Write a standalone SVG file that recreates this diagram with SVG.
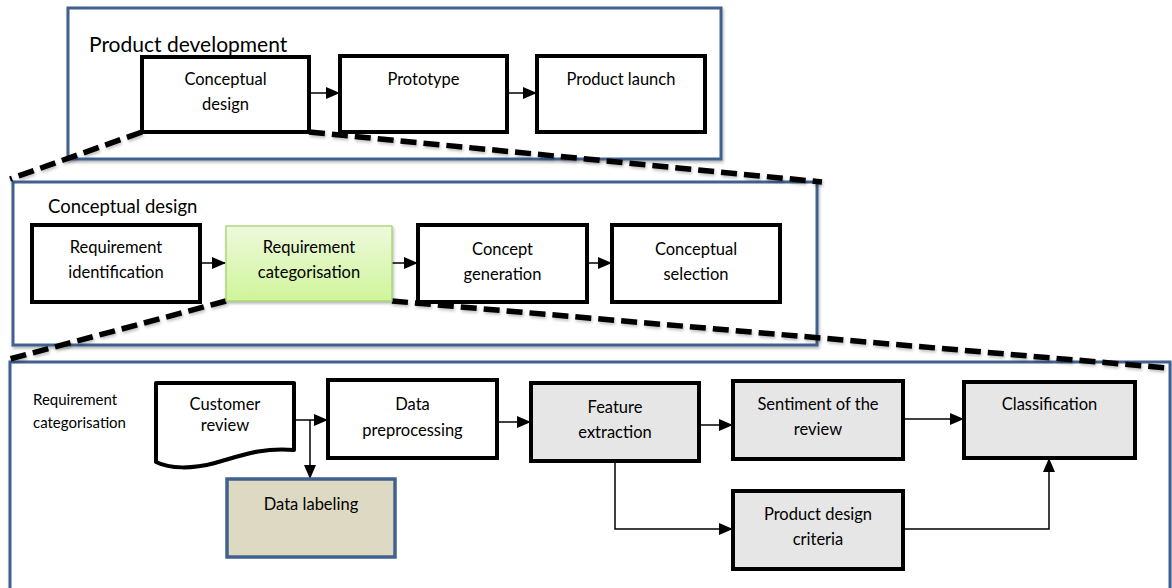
<svg xmlns="http://www.w3.org/2000/svg" width="1172" height="588" viewBox="0 0 1172 588">
<defs>
<marker id="ah2" markerWidth="14" markerHeight="12" refX="13" refY="6" orient="auto" markerUnits="userSpaceOnUse"><path d="M0,0 L14,6 L0,12 Z" fill="#000"/></marker>
<linearGradient id="green" x1="0" y1="0" x2="0" y2="1"><stop offset="0" stop-color="#eef9dc"/><stop offset="1" stop-color="#cff59a"/></linearGradient>
<filter id="sh" x="-5%" y="-5%" width="110%" height="115%"><feDropShadow dx="1" dy="2" stdDeviation="1.5" flood-color="#000" flood-opacity="0.3"/></filter>
<filter id="sh2" x="-5%" y="-20%" width="110%" height="140%"><feDropShadow dx="1" dy="2" stdDeviation="1.5" flood-color="#000" flood-opacity="0.25"/></filter>
</defs>
<style>
.frame{fill:#fff;stroke:#41618f;stroke-width:3}
.box{fill:#fff;stroke:#000;stroke-width:4}
.gbox{fill:#e6e6e6;stroke:#000;stroke-width:4}
.t{font-family:Lato,"Open Sans",sans-serif;fill:#000;text-anchor:middle;font-size:16.5px}
.ttl{font-family:Lato,"Open Sans",sans-serif;fill:#000}
.dash{fill:none;stroke:#000;stroke-width:5.5;stroke-dasharray:16,7}
.c{fill:none;stroke:#000;stroke-width:1.5}
</style>
<rect width="1172" height="588" fill="#fff"/>
<g id="frame1">
<rect class="frame" x="68" y="8" width="653" height="151" filter="url(#sh)"/>
<text class="ttl" x="89" y="52" font-size="21">Product development</text>
</g>
<g id="frame2">
<rect class="frame" x="13" y="182" width="804" height="163" filter="url(#sh)"/>
<text class="ttl" x="48" y="213" font-size="18.5">Conceptual design</text>
</g>
<g id="frame3">
<rect class="frame" x="10" y="362" width="1160" height="232" filter="url(#sh)"/>
<text class="ttl" x="33" y="405" font-size="15">Requirement</text>
<text class="ttl" x="33" y="428" font-size="15">categorisation</text>
</g>
<g id="connectors">
<g filter="url(#sh2)">
<path class="dash" d="M142,132 L10,179"/>
<path class="dash" d="M309,132 L822,182"/>
<path class="dash" d="M226,301 L6,360"/>
<path class="dash" d="M392,301 L1168,368"/>
</g>
<path class="c" d="M309,93 H339" marker-end="url(#ah2)"/>
<path class="c" d="M507,93 H536" marker-end="url(#ah2)"/>
<path class="c" d="M200,263 H225" marker-end="url(#ah2)"/>
<path class="c" d="M392,263 H417" marker-end="url(#ah2)"/>
<path class="c" d="M587,263 H611" marker-end="url(#ah2)"/>
<path class="c" d="M294,420 H327" marker-end="url(#ah2)"/>
<path class="c" d="M310,420 V478" marker-end="url(#ah2)"/>
<path class="c" d="M497,422 H530" marker-end="url(#ah2)"/>
<path class="c" d="M699,425 H732" marker-end="url(#ah2)"/>
<path class="c" d="M903,419 H963" marker-end="url(#ah2)"/>
<path class="c" d="M615,461 V529 H732" marker-end="url(#ah2)"/>
<path class="c" d="M903,529 H1049 V459" marker-end="url(#ah2)"/>
</g>
<g id="n-conceptual-design">
<rect class="box" x="142" y="57" width="167" height="75"/>
<text class="t" x="225.5" y="85">Conceptual</text>
<text class="t" x="225.5" y="110">design</text>
</g>
<g id="n-prototype">
<rect class="box" x="340" y="56" width="167" height="76"/>
<text class="t" x="423.5" y="85">Prototype</text>
</g>
<g id="n-product-launch">
<rect class="box" x="537" y="56" width="168" height="76"/>
<text class="t" x="621" y="85">Product launch</text>
</g>
<g id="n-req-identification">
<rect class="box" x="32" y="225" width="168" height="77"/>
<text class="t" x="116" y="253">Requirement</text>
<text class="t" x="116" y="278">identification</text>
</g>
<g id="n-req-categorisation">
<rect x="226" y="226" width="166" height="75" fill="url(#green)" stroke="#9fd064" stroke-width="1.2" filter="url(#sh)"/>
<text class="t" x="309" y="253">Requirement</text>
<text class="t" x="309" y="278">categorisation</text>
</g>
<g id="n-concept-generation">
<rect class="box" x="418" y="225" width="169" height="77"/>
<text class="t" x="502.5" y="255">Concept</text>
<text class="t" x="502.5" y="280">generation</text>
</g>
<g id="n-conceptual-selection">
<rect class="box" x="612" y="225" width="168" height="77"/>
<text class="t" x="696" y="255">Conceptual</text>
<text class="t" x="696" y="280">selection</text>
</g>
<g id="n-customer-review">
<path d="M156,383 H294 V450 C262,447 240,456 215,463 C192,469 170,469 156,462 Z" fill="#fff" stroke="#000" stroke-width="4" stroke-linejoin="round"/>
<text class="t" x="225" y="410" font-size="12">Customer</text>
<text class="t" x="225" y="431" font-size="12">review</text>
</g>
<g id="n-data-preprocessing">
<rect class="box" x="328" y="380" width="169" height="78"/>
<text class="t" x="412.5" y="410">Data</text>
<text class="t" x="412.5" y="436">preprocessing</text>
</g>
<g id="n-feature-extraction">
<rect class="gbox" x="531" y="383" width="168" height="78"/>
<text class="t" x="615" y="413">Feature</text>
<text class="t" x="615" y="438">extraction</text>
</g>
<g id="n-sentiment">
<rect class="gbox" x="733" y="381" width="170" height="78"/>
<text class="t" x="818" y="410">Sentiment of the</text>
<text class="t" x="818" y="435">review</text>
</g>
<g id="n-classification">
<rect class="gbox" x="964" y="382" width="171" height="76"/>
<text class="t" x="1049.5" y="410">Classification</text>
</g>
<g id="n-data-labeling">
<rect x="227" y="479" width="168" height="78" fill="#ddd9c3" stroke="#41618f" stroke-width="3.5"/>
<text class="t" x="311" y="510">Data labeling</text>
</g>
<g id="n-product-design-criteria">
<rect class="gbox" x="733" y="491" width="170" height="78"/>
<text class="t" x="818" y="520">Product design</text>
<text class="t" x="818" y="545">criteria</text>
</g>
</svg>
